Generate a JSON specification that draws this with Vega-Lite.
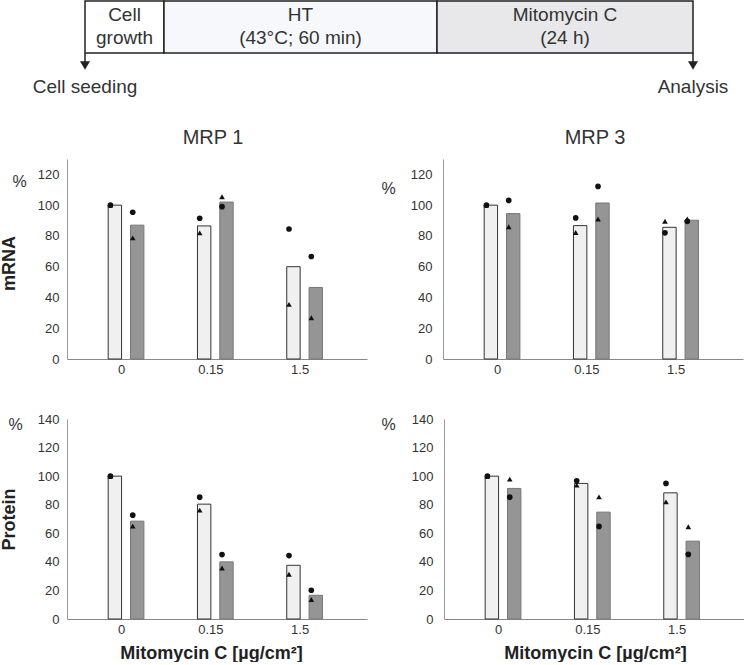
{
  "$schema": "https://vega.github.io/schema/vega-lite/v6.json",
  "padding": 0,
  "background": "white",
  "config": {
    "font": "Liberation Sans",
    "view": {"stroke": null},
    "axis": {"labelFont": "Liberation Sans", "titleFont": "Liberation Sans", "grid": false, "ticks": false},
    "title": {"font": "Liberation Sans"},
    "text": {"font": "Liberation Sans"}
  },
  "datasets": {
    "stages": [
      {"stage": "Cell growth", "start": 0, "end": 79, "l1": "Cell", "l2": "growth"},
      {"stage": "HT", "start": 79, "end": 352, "l1": "HT", "l2": "(43°C; 60 min)"},
      {"stage": "Mitomycin C", "start": 352, "end": 608, "l1": "Mitomycin C", "l2": "(24 h)"}
    ],
    "events": [
      {"event": "Cell seeding", "at": 0},
      {"event": "Analysis", "at": 608}
    ],
    "bars": [
      {"protein": "MRP 1", "assay": "mRNA", "dose": "0", "treatment": "Control", "value": 100},
      {"protein": "MRP 1", "assay": "mRNA", "dose": "0", "treatment": "HT", "value": 87},
      {"protein": "MRP 1", "assay": "mRNA", "dose": "0.15", "treatment": "Control", "value": 86.5},
      {"protein": "MRP 1", "assay": "mRNA", "dose": "0.15", "treatment": "HT", "value": 102},
      {"protein": "MRP 1", "assay": "mRNA", "dose": "1.5", "treatment": "Control", "value": 60},
      {"protein": "MRP 1", "assay": "mRNA", "dose": "1.5", "treatment": "HT", "value": 46.5},
      {"protein": "MRP 3", "assay": "mRNA", "dose": "0", "treatment": "Control", "value": 100},
      {"protein": "MRP 3", "assay": "mRNA", "dose": "0", "treatment": "HT", "value": 94.5},
      {"protein": "MRP 3", "assay": "mRNA", "dose": "0.15", "treatment": "Control", "value": 86.7},
      {"protein": "MRP 3", "assay": "mRNA", "dose": "0.15", "treatment": "HT", "value": 101.4},
      {"protein": "MRP 3", "assay": "mRNA", "dose": "1.5", "treatment": "Control", "value": 85.6},
      {"protein": "MRP 3", "assay": "mRNA", "dose": "1.5", "treatment": "HT", "value": 90.2},
      {"protein": "MRP 1", "assay": "Protein", "dose": "0", "treatment": "Control", "value": 100},
      {"protein": "MRP 1", "assay": "Protein", "dose": "0", "treatment": "HT", "value": 68.5},
      {"protein": "MRP 1", "assay": "Protein", "dose": "0.15", "treatment": "Control", "value": 80.4},
      {"protein": "MRP 1", "assay": "Protein", "dose": "0.15", "treatment": "HT", "value": 40},
      {"protein": "MRP 1", "assay": "Protein", "dose": "1.5", "treatment": "Control", "value": 37.6},
      {"protein": "MRP 1", "assay": "Protein", "dose": "1.5", "treatment": "HT", "value": 16.6},
      {"protein": "MRP 3", "assay": "Protein", "dose": "0", "treatment": "Control", "value": 100},
      {"protein": "MRP 3", "assay": "Protein", "dose": "0", "treatment": "HT", "value": 91.4},
      {"protein": "MRP 3", "assay": "Protein", "dose": "0.15", "treatment": "Control", "value": 94.9},
      {"protein": "MRP 3", "assay": "Protein", "dose": "0.15", "treatment": "HT", "value": 74.8},
      {"protein": "MRP 3", "assay": "Protein", "dose": "1.5", "treatment": "Control", "value": 88.3},
      {"protein": "MRP 3", "assay": "Protein", "dose": "1.5", "treatment": "HT", "value": 54.5}
    ],
    "points": [
      {"protein": "MRP 1", "assay": "mRNA", "dose": "0", "treatment": "Control", "rep": "2", "value": 100},
      {"protein": "MRP 1", "assay": "mRNA", "dose": "0", "treatment": "Control", "rep": "1", "value": 100},
      {"protein": "MRP 1", "assay": "mRNA", "dose": "0", "treatment": "HT", "rep": "2", "value": 78.7},
      {"protein": "MRP 1", "assay": "mRNA", "dose": "0", "treatment": "HT", "rep": "1", "value": 95.4},
      {"protein": "MRP 1", "assay": "mRNA", "dose": "0.15", "treatment": "Control", "rep": "2", "value": 82},
      {"protein": "MRP 1", "assay": "mRNA", "dose": "0.15", "treatment": "Control", "rep": "1", "value": 91.5},
      {"protein": "MRP 1", "assay": "mRNA", "dose": "0.15", "treatment": "HT", "rep": "2", "value": 105.5},
      {"protein": "MRP 1", "assay": "mRNA", "dose": "0.15", "treatment": "HT", "rep": "1", "value": 99},
      {"protein": "MRP 1", "assay": "mRNA", "dose": "1.5", "treatment": "Control", "rep": "2", "value": 35.5},
      {"protein": "MRP 1", "assay": "mRNA", "dose": "1.5", "treatment": "Control", "rep": "1", "value": 84.5},
      {"protein": "MRP 1", "assay": "mRNA", "dose": "1.5", "treatment": "HT", "rep": "2", "value": 26.8},
      {"protein": "MRP 1", "assay": "mRNA", "dose": "1.5", "treatment": "HT", "rep": "1", "value": 66.6},
      {"protein": "MRP 3", "assay": "mRNA", "dose": "0", "treatment": "Control", "rep": "2", "value": 100},
      {"protein": "MRP 3", "assay": "mRNA", "dose": "0", "treatment": "Control", "rep": "1", "value": 100},
      {"protein": "MRP 3", "assay": "mRNA", "dose": "0", "treatment": "HT", "rep": "2", "value": 86},
      {"protein": "MRP 3", "assay": "mRNA", "dose": "0", "treatment": "HT", "rep": "1", "value": 103.1},
      {"protein": "MRP 3", "assay": "mRNA", "dose": "0.15", "treatment": "Control", "rep": "2", "value": 82.2},
      {"protein": "MRP 3", "assay": "mRNA", "dose": "0.15", "treatment": "Control", "rep": "1", "value": 91.7},
      {"protein": "MRP 3", "assay": "mRNA", "dose": "0.15", "treatment": "HT", "rep": "2", "value": 91},
      {"protein": "MRP 3", "assay": "mRNA", "dose": "0.15", "treatment": "HT", "rep": "1", "value": 112.2},
      {"protein": "MRP 3", "assay": "mRNA", "dose": "1.5", "treatment": "Control", "rep": "2", "value": 89.5},
      {"protein": "MRP 3", "assay": "mRNA", "dose": "1.5", "treatment": "Control", "rep": "1", "value": 82},
      {"protein": "MRP 3", "assay": "mRNA", "dose": "1.5", "treatment": "HT", "rep": "2", "value": 91},
      {"protein": "MRP 3", "assay": "mRNA", "dose": "1.5", "treatment": "HT", "rep": "1", "value": 89.5},
      {"protein": "MRP 1", "assay": "Protein", "dose": "0", "treatment": "Control", "rep": "2", "value": 100},
      {"protein": "MRP 1", "assay": "Protein", "dose": "0", "treatment": "Control", "rep": "1", "value": 100},
      {"protein": "MRP 1", "assay": "Protein", "dose": "0", "treatment": "HT", "rep": "2", "value": 65},
      {"protein": "MRP 1", "assay": "Protein", "dose": "0", "treatment": "HT", "rep": "1", "value": 72.7},
      {"protein": "MRP 1", "assay": "Protein", "dose": "0.15", "treatment": "Control", "rep": "2", "value": 76.2},
      {"protein": "MRP 1", "assay": "Protein", "dose": "0.15", "treatment": "Control", "rep": "1", "value": 85.3},
      {"protein": "MRP 1", "assay": "Protein", "dose": "0.15", "treatment": "HT", "rep": "2", "value": 35.7},
      {"protein": "MRP 1", "assay": "Protein", "dose": "0.15", "treatment": "HT", "rep": "1", "value": 45.1},
      {"protein": "MRP 1", "assay": "Protein", "dose": "1.5", "treatment": "Control", "rep": "2", "value": 31.3},
      {"protein": "MRP 1", "assay": "Protein", "dose": "1.5", "treatment": "Control", "rep": "1", "value": 44.4},
      {"protein": "MRP 1", "assay": "Protein", "dose": "1.5", "treatment": "HT", "rep": "2", "value": 13.6},
      {"protein": "MRP 1", "assay": "Protein", "dose": "1.5", "treatment": "HT", "rep": "1", "value": 20.1},
      {"protein": "MRP 3", "assay": "Protein", "dose": "0", "treatment": "Control", "rep": "2", "value": 100},
      {"protein": "MRP 3", "assay": "Protein", "dose": "0", "treatment": "Control", "rep": "1", "value": 100},
      {"protein": "MRP 3", "assay": "Protein", "dose": "0", "treatment": "HT", "rep": "2", "value": 97.9},
      {"protein": "MRP 3", "assay": "Protein", "dose": "0", "treatment": "HT", "rep": "1", "value": 85.3},
      {"protein": "MRP 3", "assay": "Protein", "dose": "0.15", "treatment": "Control", "rep": "2", "value": 93.7},
      {"protein": "MRP 3", "assay": "Protein", "dose": "0.15", "treatment": "Control", "rep": "1", "value": 96.7},
      {"protein": "MRP 3", "assay": "Protein", "dose": "0.15", "treatment": "HT", "rep": "2", "value": 85.5},
      {"protein": "MRP 3", "assay": "Protein", "dose": "0.15", "treatment": "HT", "rep": "1", "value": 64.8},
      {"protein": "MRP 3", "assay": "Protein", "dose": "1.5", "treatment": "Control", "rep": "2", "value": 82},
      {"protein": "MRP 3", "assay": "Protein", "dose": "1.5", "treatment": "Control", "rep": "1", "value": 94.9},
      {"protein": "MRP 3", "assay": "Protein", "dose": "1.5", "treatment": "HT", "rep": "2", "value": 64.6},
      {"protein": "MRP 3", "assay": "Protein", "dose": "1.5", "treatment": "HT", "rep": "1", "value": 45.2}
    ]
  },
  "resolve": {"scale": {"fill": "independent", "stroke": "independent", "shape": "independent"}},
  "spacing": 28,
  "vconcat": [
    {
      "width": 677,
      "height": 100,
      "layer": [
        {
          "data": {"name": "stages"},
          "mark": {"type": "rect", "stroke": "#222", "strokeWidth": 1.5},
          "encoding": {
            "x": {"field": "start", "type": "quantitative", "scale": {"domain": [-18, 659], "nice": false, "zero": false}, "axis": null},
            "x2": {"field": "end"},
            "y": {"datum": 1, "type": "quantitative", "scale": {"domain": [0, 100], "reverse": true, "nice": false, "zero": false}, "axis": null},
            "y2": {"datum": 53},
            "fill": {"field": "stage", "type": "nominal", "scale": {"domain": ["Cell growth", "HT", "Mitomycin C"], "range": ["#ffffff", "#f6f8fb", "#e8e8ea"]}, "legend": null}
          }
        },
        {
          "data": {"name": "stages"},
          "transform": [{"fold": ["start", "end"], "as": ["edge", "pos"]}],
          "mark": {"type": "text", "fontSize": 19, "color": "#333", "baseline": "middle"},
          "encoding": {
            "x": {"aggregate": "mean", "field": "pos", "type": "quantitative"},
            "y": {"datum": 15, "type": "quantitative"},
            "text": {"field": "l1"}
          }
        },
        {
          "data": {"name": "stages"},
          "transform": [{"fold": ["start", "end"], "as": ["edge", "pos"]}],
          "mark": {"type": "text", "fontSize": 19, "color": "#333", "baseline": "middle"},
          "encoding": {
            "x": {"aggregate": "mean", "field": "pos", "type": "quantitative"},
            "y": {"datum": 38, "type": "quantitative"},
            "text": {"field": "l2"}
          }
        },
        {
          "data": {"name": "events"},
          "mark": {"type": "rule", "color": "#222", "strokeWidth": 1.5},
          "encoding": {
            "x": {"field": "at", "type": "quantitative"},
            "y": {"datum": 53, "type": "quantitative"},
            "y2": {"datum": 63}
          }
        },
        {
          "data": {"name": "events"},
          "mark": {"type": "point", "shape": "triangle-down", "filled": true, "color": "#222", "opacity": 1, "size": 100},
          "encoding": {
            "x": {"field": "at", "type": "quantitative"},
            "y": {"datum": 65.5, "type": "quantitative"}
          }
        },
        {
          "data": {"name": "events"},
          "mark": {"type": "text", "fontSize": 19, "color": "#333", "baseline": "middle"},
          "encoding": {
            "x": {"field": "at", "type": "quantitative"},
            "y": {"datum": 87, "type": "quantitative"},
            "text": {"field": "event"}
          }
        }
      ]
    },
    {
      "spacing": 37,
      "vconcat": [
        {
          "spacing": 13,
          "hconcat": [
            {
              "width": 300, "height": 200,
              "title": {"text": "MRP 1", "fontSize": 20, "fontWeight": "normal", "color": "#333", "frame": "group", "baseline": "alphabetic", "offset": -5, "dx": -4},
              "resolve": {"scale": {"y": "independent"}},
              "layer": [
                {
                  "data": {"name": "bars"},
                  "transform": [{"filter": "datum.protein === 'MRP 1' && datum.assay === 'mRNA'"}],
                  "mark": {"type": "bar", "width": {"band": 0.6}, "strokeWidth": 1},
                  "encoding": {
                    "x": {"field": "dose", "type": "nominal", "sort": ["0", "0.15", "1.5"], "scale": {"paddingInner": 0.5, "paddingOuter": 0.43, "align": 0.42}, "axis": {"title": null, "labelAngle": 0, "labelFontSize": 13, "labelColor": "#333", "domainColor": "#888", "labelPadding": 4}},
                    "xOffset": {"field": "treatment", "type": "nominal", "sort": ["Control", "HT"], "scale": {"paddingInner": 0, "paddingOuter": 0}},
                    "y": {"field": "value", "type": "quantitative", "scale": {"domain": [0, 130], "nice": false}, "axis": {"orient": "left", "values": [0, 20, 40, 60, 80, 100, 120], "title": "%", "titleAngle": 0, "titleX": -48, "titleY": 22, "titleAlign": "center", "titleBaseline": "middle", "titleFontSize": 16, "titleFontWeight": "normal", "titleColor": "#333", "labelFontSize": 13, "labelColor": "#333", "labelPadding": 8, "domainColor": "#999"}},
                    "fill": {"field": "treatment", "type": "nominal", "scale": {"domain": ["Control", "HT"], "range": ["#f0f0f0", "#959595"]}, "legend": null},
                    "stroke": {"field": "treatment", "type": "nominal", "scale": {"domain": ["Control", "HT"], "range": ["#333333", "#777777"]}, "legend": null}
                  }
                },
                {
                  "data": {"name": "points"},
                  "transform": [{"filter": "datum.protein === 'MRP 1' && datum.assay === 'mRNA'"}],
                  "mark": {"type": "point", "filled": true, "color": "#111", "opacity": 1, "size": 32},
                  "encoding": {
                    "x": {"field": "dose", "type": "nominal", "sort": ["0", "0.15", "1.5"], "scale": {"paddingInner": 0.5, "paddingOuter": 0.43, "align": 0.42}, "axis": {"title": null, "labelAngle": 0, "labelFontSize": 13, "labelColor": "#333", "domainColor": "#888", "labelPadding": 4}},
                    "xOffset": {"field": "treatment", "type": "nominal", "sort": ["Control", "HT"], "scale": {"paddingInner": 0, "paddingOuter": 0}},
                    "y": {"field": "value", "type": "quantitative", "scale": {"domain": [0, 130], "nice": false}, "axis": {"orient": "left", "title": "mRNA", "titleAngle": 270, "titleX": -58, "titleY": 104, "titleAlign": "center", "titleBaseline": "middle", "titleFontSize": 18, "titleFontWeight": "bold", "titleColor": "#222", "labels": false, "domain": false}},
                    "shape": {"field": "rep", "type": "nominal", "scale": {"domain": ["1", "2"], "range": ["circle", "triangle-up"]}, "legend": null}
                  }
                }
              ]
            },
            {
              "width": 300, "height": 200,
              "title": {"text": "MRP 3", "fontSize": 20, "fontWeight": "normal", "color": "#333", "frame": "group", "baseline": "alphabetic", "offset": -5, "dx": 2},
              "resolve": {"scale": {"y": "independent"}},
              "layer": [
                {
                  "data": {"name": "bars"},
                  "transform": [{"filter": "datum.protein === 'MRP 3' && datum.assay === 'mRNA'"}],
                  "mark": {"type": "bar", "width": {"band": 0.6}, "strokeWidth": 1},
                  "encoding": {
                    "x": {"field": "dose", "type": "nominal", "sort": ["0", "0.15", "1.5"], "scale": {"paddingInner": 0.5, "paddingOuter": 0.43, "align": 0.42}, "axis": {"title": null, "labelAngle": 0, "labelFontSize": 13, "labelColor": "#333", "domainColor": "#888", "labelPadding": 4}},
                    "xOffset": {"field": "treatment", "type": "nominal", "sort": ["Control", "HT"], "scale": {"paddingInner": 0, "paddingOuter": 0}},
                    "y": {"field": "value", "type": "quantitative", "scale": {"domain": [0, 130], "nice": false}, "axis": {"orient": "left", "values": [0, 20, 40, 60, 80, 100, 120], "title": "%", "titleAngle": 0, "titleX": -55, "titleY": 29, "titleAlign": "center", "titleBaseline": "middle", "titleFontSize": 16, "titleFontWeight": "normal", "titleColor": "#333", "labelFontSize": 13, "labelColor": "#333", "labelPadding": 11, "domainColor": "#999"}},
                    "fill": {"field": "treatment", "type": "nominal", "scale": {"domain": ["Control", "HT"], "range": ["#f0f0f0", "#959595"]}, "legend": null},
                    "stroke": {"field": "treatment", "type": "nominal", "scale": {"domain": ["Control", "HT"], "range": ["#333333", "#777777"]}, "legend": null}
                  }
                },
                {
                  "data": {"name": "points"},
                  "transform": [{"filter": "datum.protein === 'MRP 3' && datum.assay === 'mRNA'"}],
                  "mark": {"type": "point", "filled": true, "color": "#111", "opacity": 1, "size": 32},
                  "encoding": {
                    "x": {"field": "dose", "type": "nominal", "sort": ["0", "0.15", "1.5"], "scale": {"paddingInner": 0.5, "paddingOuter": 0.43, "align": 0.42}, "axis": {"title": null, "labelAngle": 0, "labelFontSize": 13, "labelColor": "#333", "domainColor": "#888", "labelPadding": 4}},
                    "xOffset": {"field": "treatment", "type": "nominal", "sort": ["Control", "HT"], "scale": {"paddingInner": 0, "paddingOuter": 0}},
                    "y": {"field": "value", "type": "quantitative", "scale": {"domain": [0, 130], "nice": false}, "axis": null},
                    "shape": {"field": "rep", "type": "nominal", "scale": {"domain": ["1", "2"], "range": ["circle", "triangle-up"]}, "legend": null}
                  }
                }
              ]
            }
          ]
        },
        {
          "spacing": 13,
          "hconcat": [
            {
              "width": 300, "height": 200,
              "resolve": {"scale": {"y": "independent"}},
              "layer": [
                {
                  "data": {"name": "bars"},
                  "transform": [{"filter": "datum.protein === 'MRP 1' && datum.assay === 'Protein'"}],
                  "mark": {"type": "bar", "width": {"band": 0.6}, "strokeWidth": 1},
                  "encoding": {
                    "x": {"field": "dose", "type": "nominal", "sort": ["0", "0.15", "1.5"], "scale": {"paddingInner": 0.5, "paddingOuter": 0.43, "align": 0.42}, "axis": {"title": "Mitomycin C [µg/cm²]", "titleFontSize": 18, "titleFontWeight": "bold", "titleColor": "#222", "titlePadding": 8, "titleX": 144, "labelAngle": 0, "labelFontSize": 13, "labelColor": "#333", "domainColor": "#888", "labelPadding": 4}},
                    "xOffset": {"field": "treatment", "type": "nominal", "sort": ["Control", "HT"], "scale": {"paddingInner": 0, "paddingOuter": 0}},
                    "y": {"field": "value", "type": "quantitative", "scale": {"domain": [0, 140], "nice": false}, "axis": {"orient": "left", "values": [0, 20, 40, 60, 80, 100, 120, 140], "title": "%", "titleAngle": 0, "titleX": -52, "titleY": 5, "titleAlign": "center", "titleBaseline": "middle", "titleFontSize": 16, "titleFontWeight": "normal", "titleColor": "#333", "labelFontSize": 13, "labelColor": "#333", "labelPadding": 8, "domainColor": "#999"}},
                    "fill": {"field": "treatment", "type": "nominal", "scale": {"domain": ["Control", "HT"], "range": ["#f0f0f0", "#959595"]}, "legend": null},
                    "stroke": {"field": "treatment", "type": "nominal", "scale": {"domain": ["Control", "HT"], "range": ["#333333", "#777777"]}, "legend": null}
                  }
                },
                {
                  "data": {"name": "points"},
                  "transform": [{"filter": "datum.protein === 'MRP 1' && datum.assay === 'Protein'"}],
                  "mark": {"type": "point", "filled": true, "color": "#111", "opacity": 1, "size": 32},
                  "encoding": {
                    "x": {"field": "dose", "type": "nominal", "sort": ["0", "0.15", "1.5"], "scale": {"paddingInner": 0.5, "paddingOuter": 0.43, "align": 0.42}, "axis": {"title": "Mitomycin C [µg/cm²]", "titleFontSize": 18, "titleFontWeight": "bold", "titleColor": "#222", "titlePadding": 8, "titleX": 144, "labelAngle": 0, "labelFontSize": 13, "labelColor": "#333", "domainColor": "#888", "labelPadding": 4}},
                    "xOffset": {"field": "treatment", "type": "nominal", "sort": ["Control", "HT"], "scale": {"paddingInner": 0, "paddingOuter": 0}},
                    "y": {"field": "value", "type": "quantitative", "scale": {"domain": [0, 140], "nice": false}, "axis": {"orient": "left", "title": "Protein", "titleAngle": 270, "titleX": -58, "titleY": 100, "titleAlign": "center", "titleBaseline": "middle", "titleFontSize": 18, "titleFontWeight": "bold", "titleColor": "#222", "labels": false, "domain": false}},
                    "shape": {"field": "rep", "type": "nominal", "scale": {"domain": ["1", "2"], "range": ["circle", "triangle-up"]}, "legend": null}
                  }
                }
              ]
            },
            {
              "width": 300, "height": 200,
              "resolve": {"scale": {"y": "independent"}},
              "layer": [
                {
                  "data": {"name": "bars"},
                  "transform": [{"filter": "datum.protein === 'MRP 3' && datum.assay === 'Protein'"}],
                  "mark": {"type": "bar", "width": {"band": 0.6}, "strokeWidth": 1},
                  "encoding": {
                    "x": {"field": "dose", "type": "nominal", "sort": ["0", "0.15", "1.5"], "scale": {"paddingInner": 0.5, "paddingOuter": 0.43, "align": 0.42}, "axis": {"title": "Mitomycin C [µg/cm²]", "titleFontSize": 18, "titleFontWeight": "bold", "titleColor": "#222", "titlePadding": 8, "titleX": 151, "labelAngle": 0, "labelFontSize": 13, "labelColor": "#333", "domainColor": "#888", "labelPadding": 4}},
                    "xOffset": {"field": "treatment", "type": "nominal", "sort": ["Control", "HT"], "scale": {"paddingInner": 0, "paddingOuter": 0}},
                    "y": {"field": "value", "type": "quantitative", "scale": {"domain": [0, 140], "nice": false}, "axis": {"orient": "left", "values": [0, 20, 40, 60, 80, 100, 120, 140], "title": "%", "titleAngle": 0, "titleX": -56, "titleY": 5, "titleAlign": "center", "titleBaseline": "middle", "titleFontSize": 16, "titleFontWeight": "normal", "titleColor": "#333", "labelFontSize": 13, "labelColor": "#333", "labelPadding": 11, "domainColor": "#999"}},
                    "fill": {"field": "treatment", "type": "nominal", "scale": {"domain": ["Control", "HT"], "range": ["#f0f0f0", "#959595"]}, "legend": null},
                    "stroke": {"field": "treatment", "type": "nominal", "scale": {"domain": ["Control", "HT"], "range": ["#333333", "#777777"]}, "legend": null}
                  }
                },
                {
                  "data": {"name": "points"},
                  "transform": [{"filter": "datum.protein === 'MRP 3' && datum.assay === 'Protein'"}],
                  "mark": {"type": "point", "filled": true, "color": "#111", "opacity": 1, "size": 32},
                  "encoding": {
                    "x": {"field": "dose", "type": "nominal", "sort": ["0", "0.15", "1.5"], "scale": {"paddingInner": 0.5, "paddingOuter": 0.43, "align": 0.42}, "axis": {"title": "Mitomycin C [µg/cm²]", "titleFontSize": 18, "titleFontWeight": "bold", "titleColor": "#222", "titlePadding": 8, "titleX": 151, "labelAngle": 0, "labelFontSize": 13, "labelColor": "#333", "domainColor": "#888", "labelPadding": 4}},
                    "xOffset": {"field": "treatment", "type": "nominal", "sort": ["Control", "HT"], "scale": {"paddingInner": 0, "paddingOuter": 0}},
                    "y": {"field": "value", "type": "quantitative", "scale": {"domain": [0, 140], "nice": false}, "axis": null},
                    "shape": {"field": "rep", "type": "nominal", "scale": {"domain": ["1", "2"], "range": ["circle", "triangle-up"]}, "legend": null}
                  }
                }
              ]
            }
          ]
        }
      ]
    }
  ]
}
